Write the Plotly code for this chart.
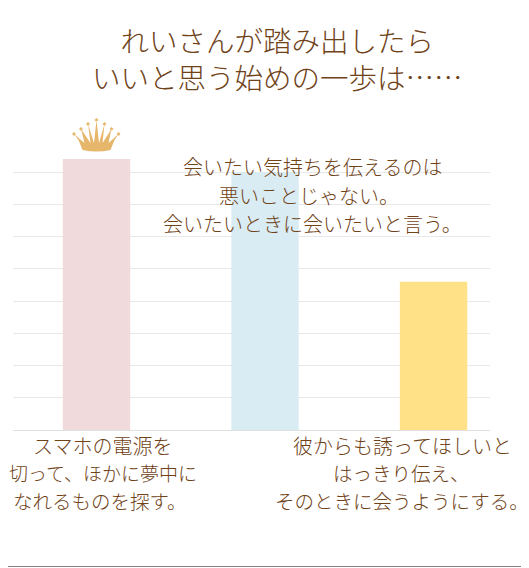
import plotly.graph_objects as go

# the page body has an 8px margin, so the figure is drawn that much smaller and further up
PAGE = 8
W = 529 - PAGE
H = 568 - PAGE

# bars (1 unit = one gridline step)
categories = ['スマホの電源を', '会いたい気持ち', '彼からも誘って']
values = [8.4, 8.0, 4.6]
bar_colors = ['#f0dadb', '#d9ecf3', '#ffe187']

title_lines = ['れいさんが踏み出したら', 'いいと思う始めの一歩は……']
label_left = ['スマホの電源を', '切って、ほかに夢中に', 'なれるものを探す。']
label_mid = ['会いたい気持ちを伝えるのは', '悪いことじゃない。', '会いたいときに会いたいと言う。']
label_right = ['彼からも誘ってほしいと', 'はっきり伝え、', 'そのときに会うようにする。']

BROWN = '#6f4217'
GOLD = '#e6b66b'
FONT = 'Noto Sans CJK JP'

# plot area in page pixels, top is well above the last gridline so the crown is not clipped
left, right, top, bottom = 13, 490, 110, 430
UNIT = 32.25


def px(x):
  return (x - left) / (right - left)


def py(y):
  return (bottom - y) / (bottom - top)


def text_item(text, x, y, size):
  return dict(text=text, x=px(x), y=py(y), xref='paper', yref='paper', xanchor='center', yanchor='middle',
              showarrow=False, align='center', font=dict(family=FONT, size=size, color=BROWN, weight=300))


def text_block(lines, xs, ys, sizes):
  return [text_item(t, x, y, s) for t, x, y, s in zip(lines, xs, ys, sizes)]


def crown_path():
  # seven spikes in pixels from the bar top, y going up
  tips = [(-22.5, 25), (-15.5, 30), (-8.5, 35), (0, 39), (8, 35), (15, 30), (22, 25)]
  base = [(-18, 19), (-12, 16), (-6, 16), (-2.5, 16), (2.5, 16), (6, 16), (12, 16), (18, 19)]
  d = 'M -14 9 L %g %g' % base[0]
  for i, (x, y) in enumerate(tips):
    if i > 0:
      d += ' L %g %g' % base[i]
    d += ' L %g %g' % (x, y)
    d += ' L %g %g' % base[i + 1]
  d += ' L 14 9 Q 0 6 -14 9 Z'
  # small blobs on the spike tips
  for x, y in tips:
    d += ' M %g %g L %g %g L %g %g L %g %g Z' % (x - 2, y, x, y + 2, x + 2, y, x, y - 2)
  return d


fig = go.Figure()
fig.add_trace(go.Bar(x=categories, y=values, marker=dict(color=bar_colors, line_width=0),
                     width=0.4, showlegend=False, hoverinfo='skip'))

shapes = [dict(type='path', path=crown_path(), xref='x', yref='y', xsizemode='pixel', ysizemode='pixel',
               xanchor=categories[0], yanchor=values[0], fillcolor=GOLD, line_width=0, layer='above')]
# strip along the bottom of the page
shapes.append(dict(type='line', xref='paper', yref='paper', x0=-0.1, x1=1.2, y0=py(566.5), y1=py(566.5),
                   line=dict(color='#8a8080', width=1)))

annotations = ([text_item('<br>'.join(title_lines), 277, 58, 28.5)]
               + text_block(label_mid, [312, 309, 312], [166, 195, 223], [20, 20, 20])
               + text_block(label_left, [102, 103, 100], [445, 472, 500], [20, 19, 19.5])
               + text_block(label_right, [402, 401, 402], [445, 472, 500], [20, 19.5, 19.5]))

fig.update_layout(
  width=W, height=H,
  margin=dict(l=left - PAGE, r=529 - right, t=top - PAGE, b=568 - bottom, pad=0),
  paper_bgcolor='white', plot_bgcolor='white',
  xaxis=dict(range=[-0.4955, 2.335], showticklabels=False, ticks='', showgrid=False, zeroline=False,
             categoryorder='array', categoryarray=categories),
  yaxis=dict(range=[0, (bottom - top) / UNIT], tickvals=[1, 2, 3, 4, 5, 6, 7, 8], showticklabels=False,
             ticks='', gridcolor='#e8e8e8', gridwidth=1,
             zeroline=True, zerolinecolor='#e0e0e0', zerolinewidth=1),
  shapes=shapes,
  annotations=annotations,
)

fig.write_html('out.html')
